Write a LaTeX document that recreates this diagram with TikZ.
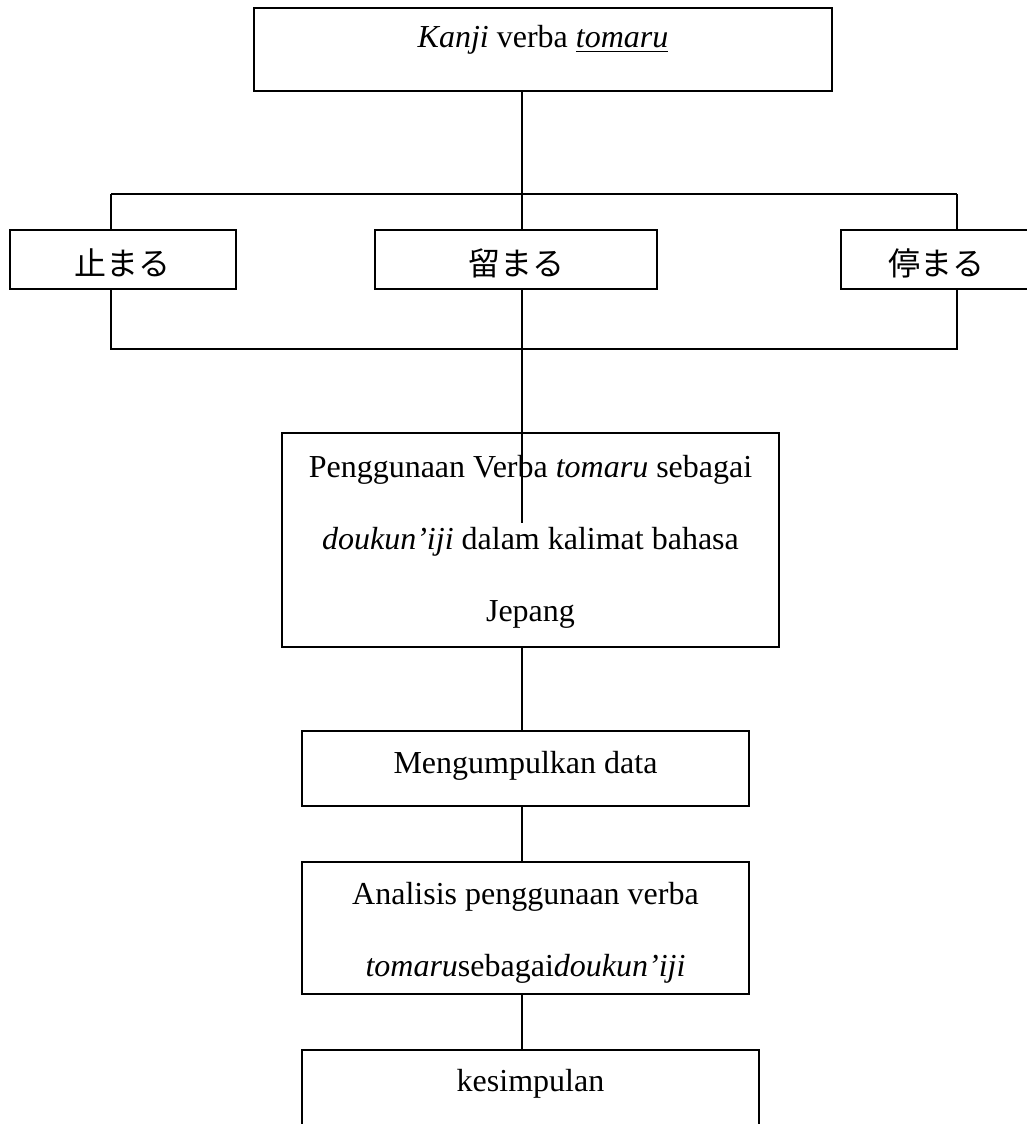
\documentclass[tikz,border=0pt]{standalone}
\usepackage{fontspec}
\setmainfont{Liberation Serif}
\newfontfamily\jpfont{Noto Sans CJK JP}
\usepackage{tikz}

\begin{document}
\begin{tikzpicture}[
  x=0.375pt, y=-0.375pt,
  font=\fontsize{12pt}{27pt}\selectfont,
  box/.style={draw, line width=0.75pt, inner ysep=0pt, anchor=base, align=center},
  jp/.style={font=\fontsize{12pt}{27pt}\selectfont\jpfont},
  link/.style={line width=0.75pt}]
  \clip (0,0) rectangle (1027,1124);
  % title
  \node[box, minimum width=216.75pt, text height=14.6pt, text depth=16.5pt] (title) at (543,47)
    {\textit{Kanji} verba \underline{\textit{tomaru}}};
  % the three kanji of tomaru
  \node[box, jp, minimum width=84.75pt, text height=16.9pt, text depth=5.25pt] (tomA) at (123,275) {止まる};
  \node[box, jp, minimum width=105.75pt, text height=16.9pt, text depth=5.25pt] (tomB) at (516,275) {留まる};
  \node[box, jp, minimum width=71.25pt, text height=16.9pt, text depth=5.25pt] (tomC) at (936,275) {停まる};
  % steps (multi-line boxes sit on their last line)
  \node[box, minimum width=186.4pt, text height=70.5pt, text depth=9.75pt] (usage) at (530.5,621)
    {Penggunaan Verba \textit{tomaru} sebagai\\\textit{doukun’iji} dalam kalimat bahasa\\Jepang};
  \node[box, minimum width=167.6pt, text height=15.75pt, text depth=12.4pt] (collect) at (525.5,773)
    {Mengumpulkan data};
  \node[box, minimum width=167.6pt, text height=42.75pt, text depth=6.75pt] (analysis) at (525.5,976)
    {Analisis penggunaan verba\\\textit{tomaru}sebagai\textit{doukun’iji}};
  \node[box, minimum width=171.4pt, text height=15.4pt, text depth=25.9pt] (concl) at (530.5,1091)
    {kesimpulan};
  % junctions
  \coordinate (jtop) at (522,194);
  \coordinate (jl) at (111,194);
  \coordinate (jr) at (957,194);
  \coordinate (bl) at (111,349);
  \coordinate (bm) at (522,349);
  \coordinate (br) at (957,349);
  \coordinate (stub) at (522,523);
  % connectors
  \draw[link] (title.south -| jtop) -- (jtop);
  \draw[link] (jl) -- (jr);
  \draw[link] (jl) -- (tomA.north -| jl);
  \draw[link] (jtop) -- (tomB.north -| jtop);
  \draw[link] (jr) -- (tomC.north -| jr);
  \draw[link] (tomA.south -| bl) -- (bl) -- (br) -- (tomC.south -| br);
  \draw[link] (tomB.south -| bm) -- (bm);
  \draw[link] (bm) -- (stub);
  \draw[link] (usage.south -| bm) -- (collect.north -| bm);
  \draw[link] (collect.south -| bm) -- (analysis.north -| bm);
  \draw[link] (analysis.south -| bm) -- (concl.north -| bm);
\end{tikzpicture}
\end{document}
